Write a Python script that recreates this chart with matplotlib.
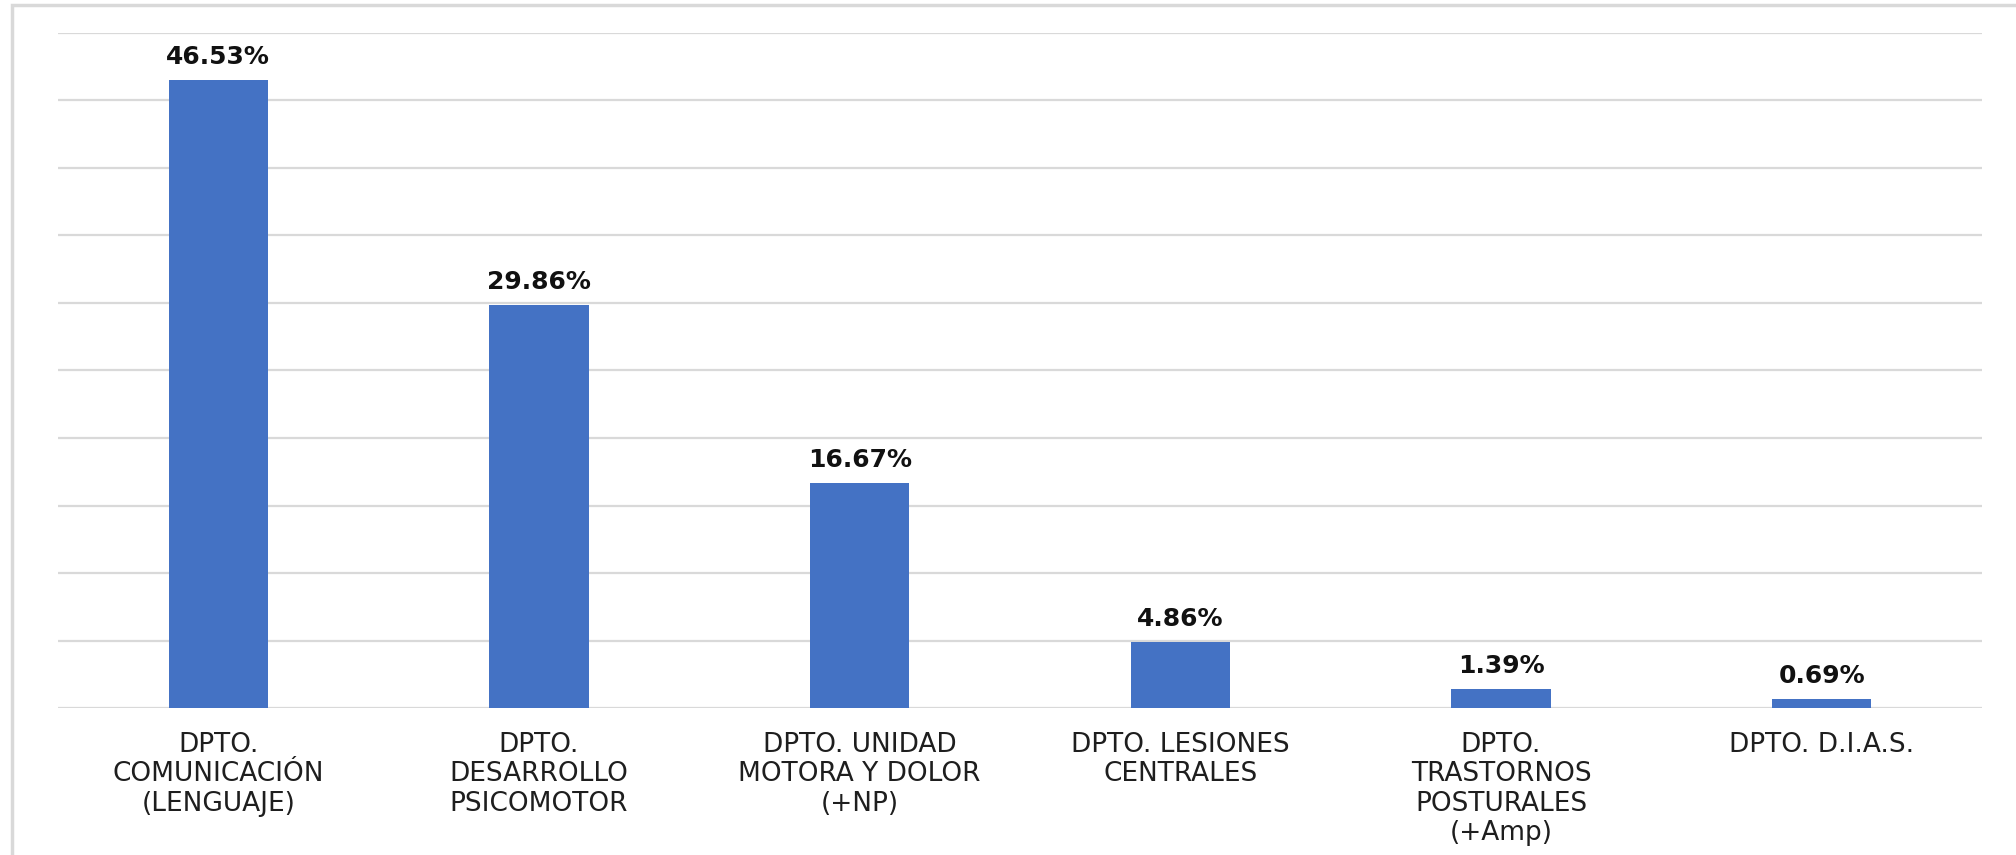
import matplotlib
matplotlib.use("Agg")
import matplotlib.pyplot as plt
from matplotlib.patches import Rectangle

# datos
departamentos = [
    "DPTO.\nCOMUNICACIÓN\n(LENGUAJE)",
    "DPTO.\nDESARROLLO\nPSICOMOTOR",
    "DPTO. UNIDAD\nMOTORA Y DOLOR\n(+NP)",
    "DPTO. LESIONES\nCENTRALES",
    "DPTO.\nTRASTORNOS\nPOSTURALES\n(+Amp)",
    "DPTO. D.I.A.S.",
]
porcentajes = [46.53, 29.86, 16.67, 4.86, 1.39, 0.69]
etiquetas = ["46.53%", "29.86%", "16.67%", "4.86%", "1.39%", "0.69%"]

fig = plt.figure(figsize=(20.16, 8.55), dpi=100)
# marco gris alrededor
fig.patches.append(Rectangle((12 / 2016, -0.05), 1.2, 1.05 - 5 / 855,
                             transform=fig.transFigure, fill=False,
                             edgecolor="#d9d9d9", lw=2.5))

ax = fig.add_axes([58 / 2016, 1 - 708 / 855, 1924 / 2016, 675 / 855])
x = range(len(departamentos))
barras = ax.bar(x, porcentajes, width=0.31, color="#4472C4", zorder=3)

for b, txt in zip(barras, etiquetas):
    ax.annotate(txt, (b.get_x() + b.get_width() / 2, b.get_height()),
                xytext=(0, 8), textcoords="offset points",
                ha="center", va="bottom", fontsize=18, fontweight="bold",
                family="DejaVu Sans", color="#111111")

ax.set_xlim(-0.5, 5.5)
ax.set_ylim(0, 50)
ax.set_yticks(range(0, 55, 5))
ax.yaxis.grid(True, color="#d9d9d9", lw=1.6)
ax.set_axisbelow(True)
ax.tick_params(axis="y", length=0, labelleft=False)
ax.tick_params(axis="x", length=0, pad=17)
ax.set_xticks(list(x))
ax.set_xticklabels(departamentos, fontsize=19, family="DejaVu Sans",
                   color="#1e1e1e", linespacing=1.18, va="top")
for s in ax.spines.values():
    s.set_visible(False)

fig.savefig("out.png", dpi=100)
